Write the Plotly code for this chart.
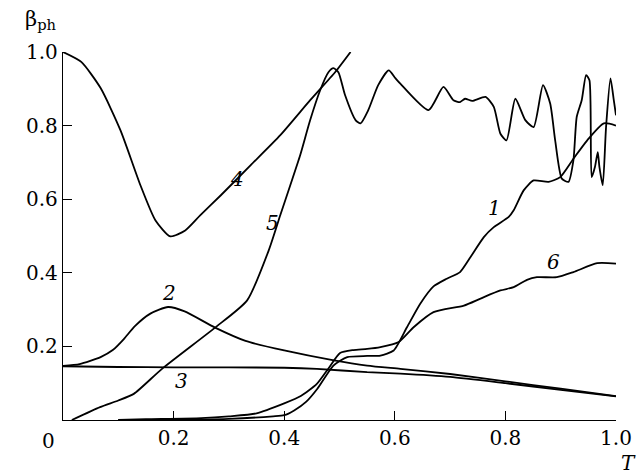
import plotly.graph_objects as go

# Curve 1
t1 = [0.10, 0.20, 0.30, 0.38, 0.40, 0.418, 0.44, 0.46, 0.489, 0.514, 0.55, 0.574, 0.598, 0.622, 0.646, 0.670, 0.694, 0.718, 0.737, 0.761, 0.779, 0.806, 0.815, 0.833, 0.851, 0.878, 0.899, 0.923, 0.948, 0.978, 1.0]
b1 = [0.0, 0.0, 0.003, 0.01, 0.013, 0.026, 0.05, 0.085, 0.148, 0.171, 0.174, 0.175, 0.189, 0.252, 0.316, 0.363, 0.384, 0.402, 0.443, 0.497, 0.524, 0.552, 0.570, 0.624, 0.651, 0.647, 0.660, 0.710, 0.760, 0.806, 0.80]

# Curve 2
t2 = [0.0, 0.03, 0.068, 0.09, 0.11, 0.13, 0.158, 0.19, 0.22, 0.275, 0.33, 0.40, 0.49, 0.55, 0.61, 0.70, 0.80, 0.90, 1.0]
b2 = [0.147, 0.152, 0.171, 0.19, 0.22, 0.255, 0.289, 0.307, 0.295, 0.251, 0.215, 0.189, 0.162, 0.148, 0.139, 0.125, 0.105, 0.085, 0.065]

# Curve 3
t3 = [0.0, 0.10, 0.20, 0.30, 0.40, 0.459, 0.55, 0.61, 0.70, 0.80, 0.90, 1.0]
b3 = [0.146, 0.144, 0.143, 0.143, 0.142, 0.139, 0.130, 0.126, 0.117, 0.100, 0.082, 0.064]

# Curve 4
t4 = [0.0, 0.033, 0.068, 0.104, 0.14, 0.167, 0.194, 0.221, 0.248, 0.285, 0.339, 0.393, 0.447, 0.492, 0.52]
b4 = [1.0, 0.973, 0.902, 0.787, 0.638, 0.543, 0.499, 0.515, 0.556, 0.61, 0.692, 0.774, 0.869, 0.945, 1.0]

# Curve 5
t5 = [0.016, 0.067, 0.10, 0.128, 0.179, 0.275, 0.333, 0.372, 0.393, 0.411, 0.429, 0.447, 0.465, 0.48, 0.489, 0.498, 0.51, 0.529, 0.538, 0.552, 0.57, 0.589, 0.601, 0.61,
      0.661, 0.688, 0.706, 0.718, 0.727, 0.74, 0.764, 0.779, 0.791, 0.802, 0.818, 0.836, 0.851, 0.868, 0.881, 0.89, 0.902, 0.914, 0.923, 0.929, 0.938, 0.946, 0.952,
      0.956, 0.962, 0.967, 0.97, 0.976, 0.982, 0.99, 0.996, 1.0]
b5 = [0.0, 0.035, 0.053, 0.071, 0.139, 0.251, 0.325, 0.461, 0.557, 0.638, 0.72, 0.815, 0.896, 0.945, 0.956, 0.945, 0.883, 0.815, 0.806, 0.842, 0.91, 0.95, 0.929, 0.914,
      0.842, 0.905, 0.869, 0.864, 0.873, 0.867, 0.878, 0.851, 0.778, 0.76, 0.873, 0.815, 0.796, 0.91, 0.86, 0.76, 0.656, 0.647, 0.706, 0.824, 0.869, 0.937, 0.923,
      0.66, 0.688, 0.728, 0.688, 0.638, 0.796, 0.928, 0.869, 0.828]

# Curve 6
t6 = [0.10, 0.15, 0.25, 0.30, 0.35, 0.40, 0.43, 0.459, 0.48, 0.501, 0.525, 0.55, 0.574, 0.607, 0.634, 0.670, 0.725, 0.755, 0.791, 0.815, 0.839, 0.857, 0.893, 0.923, 0.966, 1.0]
b6 = [0.0, 0.002, 0.005, 0.01, 0.018, 0.045, 0.065, 0.098, 0.14, 0.182, 0.19, 0.193, 0.198, 0.212, 0.252, 0.293, 0.311, 0.33, 0.352, 0.361, 0.381, 0.388, 0.388, 0.402, 0.426, 0.425]

tick_vals = [0.2, 0.4, 0.6, 0.8, 1.0]
tick_text = ["0.2", "0.4", "0.6", "0.8", "1.0"]

curve_labels = ["1", "2", "3", "4", "5", "6"]
label_t = [0.780, 0.191, 0.215, 0.315, 0.378, 0.887]
label_b = [0.575, 0.344, 0.107, 0.655, 0.535, 0.429]

FONT = "DejaVu Serif"
FS = 20

fig = go.Figure()
for t, b in [(t1, b1), (t2, b2), (t3, b3), (t4, b4), (t5, b5), (t6, b6)]:
    fig.add_trace(go.Scatter(x=t, y=b, mode="lines",
                             line=dict(color="black", width=1.8, shape="spline", smoothing=0.6),
                             showlegend=False, hoverinfo="skip"))

for s, xx, yy in zip(curve_labels, label_t, label_b):
    fig.add_annotation(x=xx, y=yy, text=f"<i>{s}</i>", showarrow=False,
                       xanchor="center", yanchor="middle",
                       font=dict(family=FONT, size=FS, color="black"))

fig.add_annotation(xref="paper", yref="paper", x=-0.026, y=-0.058, text="0", showarrow=False,
                   xanchor="center", yanchor="middle",
                   font=dict(family=FONT, size=FS, color="black"))
fig.add_annotation(xref="paper", yref="paper", x=1.0217, y=-0.117, text="<i>T</i>", showarrow=False,
                   xanchor="center", yanchor="middle",
                   font=dict(family=FONT, size=FS, color="black"))
fig.add_annotation(xref="paper", yref="paper", x=-0.073, y=1.045, text="β<sub>ph</sub>", showarrow=False,
                   xanchor="left", yanchor="bottom",
                   font=dict(family=FONT, size=FS + 1, color="black"))

axis_common = dict(showgrid=False, zeroline=False, showline=True, linecolor="black", linewidth=1.3,
                   ticks="inside", ticklen=9, tickwidth=1.3, tickcolor="black",
                   tickfont=dict(family=FONT, size=FS, color="black"),
                   tickvals=tick_vals, ticktext=tick_text, automargin=False)

fig.update_xaxes(range=[0, 1.0], **axis_common)
fig.update_yaxes(range=[0, 1.0], ticklabelstandoff=0, **axis_common)

fig.update_layout(width=642, height=476, margin=dict(l=63, r=26, t=52, b=56),
                  plot_bgcolor="white", paper_bgcolor="white",
                  font=dict(family=FONT))

fig.write_html("out.html", config={"displayModeBar": False},
               post_script="document.body.style.margin='0';document.body.style.overflow='hidden';")
